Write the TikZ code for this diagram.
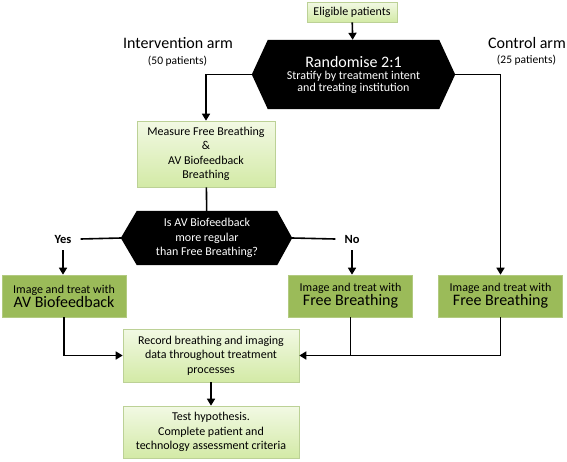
\documentclass[tikz,border=0pt]{standalone}
\usepackage{fontspec}
\setmainfont{Carlito}
\usetikzlibrary{arrows.meta,backgrounds}
\definecolor{lgA}{HTML}{F2F9E4}
\definecolor{lgB}{HTML}{D3EAA6}
\definecolor{lgD}{HTML}{BCD196}
\definecolor{dg}{HTML}{9BBB59}
\definecolor{dgD}{HTML}{B2CA80}
\begin{document}
\begin{tikzpicture}[x=1pt,y=-1pt,
  light/.style={draw=lgD, line width=0.6pt, top color=lgA, bottom color=lgB, align=center, inner sep=0pt, font=\fontsize{12}{14.4}\selectfont},
  dark/.style={draw=dgD, line width=0.6pt, fill=dg, align=center, inner sep=0pt, minimum width=124pt, minimum height=42pt},
  hexbox/.style={align=center, inner sep=0pt, text=white},
  arr/.style={line width=1.6pt, -{Triangle[length=7pt,width=8pt]}},
  ln/.style={line width=1.6pt},
  lab/.style={inner sep=0pt, font=\fontsize{16}{18}\selectfont},
  sub/.style={inner sep=0pt, font=\fontsize{11.5}{13}\selectfont},
  yn/.style={inner xsep=9pt, inner ysep=7pt, font=\fontsize{12.5}{14}\bfseries}
]
\useasboundingbox (0,0) rectangle (567,461);

% top box
\node[light, minimum width=90pt, minimum height=20pt] (elig) at (352,12) {Eligible patients};

% randomise hexagon
\node[hexbox, minimum width=171pt, minimum height=69pt] (rand) at (353.5,74.5)
  {\fontsize{16}{17}\selectfont Randomise 2:1\\[0pt]
   \fontsize{12}{14}\selectfont Stratify by treatment intent\\
   \fontsize{12}{14}\selectfont and treating institution};
\coordinate (randL) at ([xshift=-16pt]rand.west);
\coordinate (randR) at ([xshift=16pt]rand.east);
\begin{pgfonlayer}{background}
\fill[black] (rand.north west) -- (rand.north east) -- (randR) -- (rand.south east)
  -- (rand.south west) -- (randL) -- cycle;
\end{pgfonlayer}

% arm labels
\node[lab] (intv) at (178,43) {Intervention arm};
\node[sub] (intvn) at (177.5,61) {(50 patients)};
\node[lab] (ctrl) at (527,43) {Control arm};
\node[sub] (ctrln) at (526.5,60) {(25 patients)};

% measure box
\node[light, minimum width=138pt, minimum height=66pt] (meas) at (206,154)
  {Measure Free Breathing\\ \&\\ AV Biofeedback\\ Breathing};

% decision hexagon
\node[hexbox, minimum width=140pt, minimum height=54pt, font=\fontsize{12}{14.2}\selectfont] (dec) at (207,238)
  {Is AV Biofeedback\\ more regular\\ than Free Breathing?};
\coordinate (decL) at ([xshift=-16pt]dec.west);
\coordinate (decR) at ([xshift=15pt]dec.east);
\begin{pgfonlayer}{background}
\fill[black] (dec.north west) -- (dec.north east) -- (decR) -- (dec.south east)
  -- (dec.south west) -- (decL) -- cycle;
\end{pgfonlayer}

\node[yn] (yes) at (63,239) {Yes};
\node[yn] (no) at (352,239) {No};

% image and treat boxes
\node[dark] (imgA) at (64,296) {\fontsize{12}{14}\selectfont Image and treat with\\[0pt] \fontsize{16}{17}\selectfont AV Biofeedback};
\node[dark] (imgB) at (350.5,296) {\fontsize{12}{14}\selectfont Image and treat with\\[0pt] \fontsize{16}{17}\selectfont Free Breathing};
\node[dark] (imgC) at (500.5,296) {\fontsize{12}{14}\selectfont Image and treat with\\[0pt] \fontsize{16}{17}\selectfont Free Breathing};

% record and test boxes
\node[light, minimum width=176pt, minimum height=53pt] (rec) at (211,355.5)
  {Record breathing and imaging\\ data throughout treatment\\ processes};
\node[light, minimum width=176pt, minimum height=52pt] (test) at (211,432)
  {Test hypothesis.\\ Complete patient and\\ technology assessment criteria};

% connectors
\draw[arr] (elig) -- (rand);
\draw[arr] (randL) -| (meas.north);
\draw[arr] (randR) -| (imgC.north);
\draw[ln] (meas) -- (dec);
\draw[ln] (decL) -- (yes.east);
\draw[ln] (decR) -- (no.west);
\draw[arr] (yes.south) -- (yes.south |- imgA.north);
\draw[arr] (no.south) -- (no.south |- imgB.north);
\draw[arr] (imgA.south) |- (rec.west);
\draw[arr] (imgC.south) |- (rec.east);
\draw[ln] (imgB.south) -- (imgB.south |- rec.east);
\draw[arr] (rec) -- (test);
\end{tikzpicture}
\end{document}
